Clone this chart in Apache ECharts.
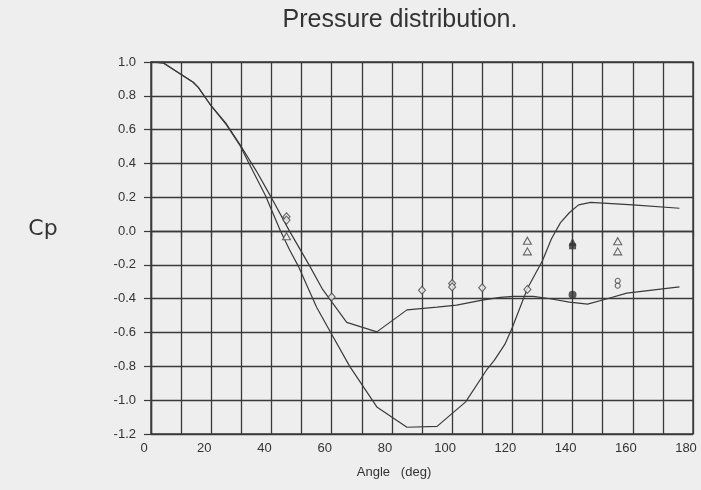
<!DOCTYPE html>
<html><head><meta charset="utf-8">
<script src="https://cdn.jsdelivr.net/npm/echarts@6/dist/echarts.min.js"></script>
<style>html,body{margin:0;padding:0;background:#eeeeee}#c{width:701px;height:490px}</style>
</head><body><div id="c"></div>
<script>
// Curves (angle deg, Cp)
const lineA = [[0,1.0],[4,0.995],[14,0.88],[15.7,0.85],[19.6,0.75],[25,0.63],[29.6,0.505],[34,0.35],[38,0.21],[43,0.0],[46,-0.11],[49,-0.21],[52,-0.33],[55,-0.45],[60,-0.61],[66,-0.80],[75,-1.04],[85,-1.16],[95,-1.155],[104.5,-1.01],[111.5,-0.82],[114,-0.765],[117.5,-0.67],[120,-0.57],[125,-0.34],[130,-0.175],[133,-0.045],[136,0.05],[139,0.11],[142,0.155],[146,0.17],[160,0.155],[175.5,0.135]];
const lineB = [[0,1.0],[4,0.995],[14,0.88],[15.7,0.85],[19.6,0.75],[25,0.635],[29.6,0.51],[35,0.355],[39.6,0.21],[46,0.0],[52.5,-0.2],[57,-0.345],[65,-0.54],[75,-0.596],[85,-0.466],[95,-0.45],[101.5,-0.438],[110,-0.408],[116,-0.392],[120.5,-0.386],[127,-0.386],[132.5,-0.40],[139,-0.42],[145,-0.432],[151.5,-0.40],[158,-0.367],[175.5,-0.33]];
// Measured points
const diamonds = [[45,0.085],[45,0.065],[60,-0.39],[90,-0.35],[100,-0.31],[100,-0.33],[110,-0.335],[125,-0.345]];
const triangles = [[45,-0.03],[125,-0.057],[125,-0.12],[155,-0.06],[155,-0.12]];
const filledTriangles = [[140,-0.063]];
const filledSquares = [[140,-0.09]];
const filledCircles = [[140,-0.377]];
const smallCircles = [[155,-0.294],[155,-0.323]];

const ink = '#3a3a3a';
const chart = echarts.init(document.getElementById('c'));
chart.setOption({
  backgroundColor: '#eeeeee',
  animation: false,
  grid: {left: 151, right: 8, top: 62, bottom: 56, show: true, borderColor: ink, borderWidth: 1.4, backgroundColor: 'transparent'},
  graphic: [
    {type: 'text', position: [400, 20], style: {text: 'Pressure distribution.', fill: '#333', font: '25px "Liberation Sans", Arial, sans-serif', textAlign: 'center', textVerticalAlign: 'middle'}},
    {type: 'text', position: [394, 472], style: {text: 'Angle   (deg)', fill: '#333', font: '13px "Liberation Sans", Arial, sans-serif', textAlign: 'center', textVerticalAlign: 'middle'}},
    {type: 'text', position: [43, 229], style: {text: 'Cp', fill: '#333', font: '22px "DejaVu Sans", sans-serif', textAlign: 'center', textVerticalAlign: 'middle'}}
  ],
  xAxis: {
    type: 'value', min: 0, max: 180, interval: 10,
    axisLine: {show: true, lineStyle: {color: ink, width: 1.4}},
    axisTick: {show: true, length: 6, lineStyle: {color: ink, width: 1.2}},
    splitLine: {show: true, lineStyle: {color: ink, width: 1.3}},
    axisLabel: {color: '#333', fontSize: 13, fontFamily: '"Liberation Sans", Arial, sans-serif', margin: 8, padding: [0, 14, 0, 0],
      formatter: v => (v % 20 === 0 ? String(v) : '')}
  },
  yAxis: {
    type: 'value', min: -1.2, max: 1.0, interval: 0.2,
    axisLine: {show: true, lineStyle: {color: ink, width: 1.4}},
    axisTick: {show: true, length: 7, lineStyle: {color: ink, width: 1.2}},
    splitLine: {show: true, lineStyle: {color: ink, width: 1.3}},
    axisLabel: {color: '#333', fontSize: 13, fontFamily: '"Liberation Sans", Arial, sans-serif', margin: 15, padding: [0, 0, 8, 0],
      formatter: v => v.toFixed(1)}
  },
  series: [
    {type: 'line', data: lineA, symbol: 'none', lineStyle: {color: ink, width: 1.2}, z: 3},
    {type: 'line', data: lineB, symbol: 'none', lineStyle: {color: ink, width: 1.2}, z: 3},
    {type: 'scatter', data: diamonds, symbol: 'diamond', symbolSize: [7, 8], itemStyle: {color: '#eeeeee', borderColor: '#444', borderWidth: 1.1}, z: 5},
    {type: 'scatter', data: triangles, symbol: 'triangle', symbolSize: [8, 7], itemStyle: {color: '#eeeeee', borderColor: '#444', borderWidth: 1.1}, z: 5},
    {type: 'scatter', data: filledTriangles, symbol: 'triangle', symbolSize: [8, 8], itemStyle: {color: '#333'}, z: 5},
    {type: 'scatter', data: filledSquares, symbol: 'rect', symbolSize: [7, 6], itemStyle: {color: '#333'}, z: 5},
    {type: 'scatter', data: filledCircles, symbol: 'circle', symbolSize: 8, itemStyle: {color: '#333'}, z: 5},
    {type: 'scatter', data: smallCircles, symbol: 'circle', symbolSize: 5, itemStyle: {color: '#eeeeee', borderColor: '#444', borderWidth: 1.1}, z: 5}
  ]
});
</script></body></html>
